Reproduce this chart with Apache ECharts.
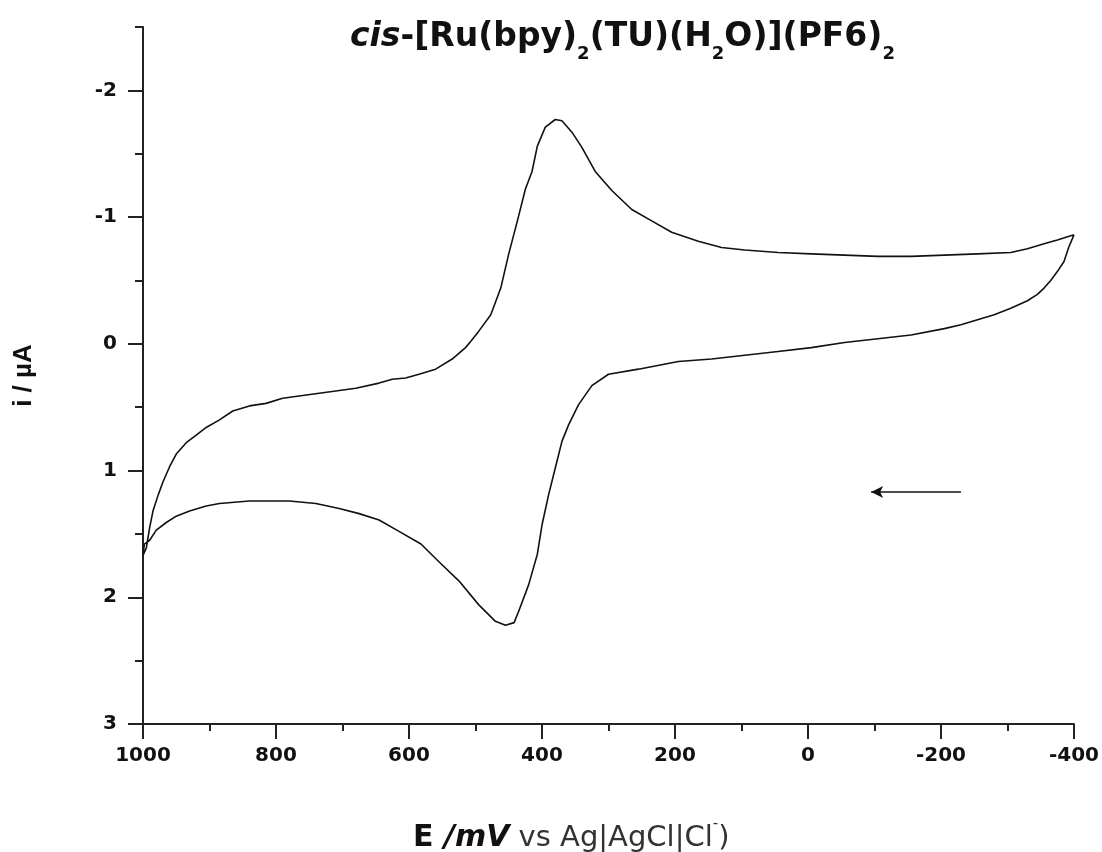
<!DOCTYPE html>
<html>
<head>
<meta charset="utf-8">
<script src="https://cdn.jsdelivr.net/npm/echarts@6/dist/echarts.min.js"></script>
<style>html,body{margin:0;padding:0;background:#fff}#c{width:1102px;height:852px}</style>
</head>
<body>
<div id="c"></div>
<script>
// Potential (mV) and current (µA), in scan order
const potential = [
  -400,-375,-355,-330,-305,-255,-205,-155,-105,-55,-5,45,95,130,165,205,235,265,295,320,340,355,370,380,395,407,415,425,437,450,462,477,495,507,515,535,560,585,605,625,645,680,735,790,815,840,865,885,905,920,935,950,960,970,977,985,990,995,1000,
  998,990,980,965,950,930,905,885,840,780,740,705,675,645,615,582,555,525,495,470,455,442,435,420,407,400,390,380,370,360,345,325,300,255,195,145,95,45,-5,-55,-105,-155,-205,-230,-255,-280,-305,-330,-345,-355,-365,-375,-385,-392,-400];
const current = [
  -0.86,-0.82,-0.79,-0.75,-0.72,-0.71,-0.70,-0.69,-0.69,-0.70,-0.71,-0.72,-0.74,-0.76,-0.81,-0.88,-0.97,-1.06,-1.21,-1.36,-1.55,-1.67,-1.76,-1.77,-1.71,-1.56,-1.36,-1.22,-0.97,-0.71,-0.44,-0.23,-0.10,-0.02,0.03,0.12,0.20,0.24,0.27,0.28,0.31,0.35,0.39,0.43,0.47,0.49,0.53,0.60,0.66,0.72,0.78,0.87,0.97,1.09,1.19,1.32,1.45,1.61,1.67,
  1.58,1.55,1.47,1.41,1.36,1.32,1.28,1.26,1.24,1.24,1.26,1.30,1.34,1.39,1.48,1.58,1.72,1.87,2.06,2.19,2.22,2.20,2.11,1.90,1.66,1.43,1.19,0.98,0.77,0.64,0.48,0.33,0.24,0.20,0.14,0.12,0.09,0.06,0.03,-0.01,-0.04,-0.07,-0.12,-0.15,-0.19,-0.23,-0.28,-0.34,-0.39,-0.44,-0.50,-0.57,-0.65,-0.76,-0.86];
const xTicks = [1000,800,600,400,200,0,-200,-400];
const yMajor = [-2,-1,0,1,2,3];
const yMinor = [-2.5,-1.5,-0.5,0.5,1.5,2.5];
const arrowX = [-230,-95];
const arrowY = [1.17,1.17];

const chart = echarts.init(document.getElementById('c'), null, {renderer:'canvas'});
const data = potential.map((e,k)=>[e,current[k]]);
const tickFont = {fontFamily:'DejaVu Sans', fontWeight:'bold', fontSize:20, color:'#111'};
const axisCol = '#222';
const TF = 'DejaVu Sans';
chart.setOption({
  backgroundColor:'#fff',
  animation:false,
  title:[{
    left:345, top:9,
    text:'{i|cis}{b|-[Ru(bpy)}{s|2}{b|(TU)(H}{s|2}{b|O)](PF6)}{s|2}',
    textStyle:{rich:{
      i:{fontFamily:TF,fontWeight:'bold',fontStyle:'italic',fontSize:33,color:'#111',verticalAlign:'bottom',lineHeight:40},
      b:{fontFamily:TF,fontWeight:'bold',fontSize:33,color:'#111',verticalAlign:'bottom',lineHeight:40},
      s:{fontFamily:TF,fontWeight:'bold',fontSize:18,color:'#111',verticalAlign:'bottom',lineHeight:40,padding:[0,0,-9,0]}
    }}
  },{
    left:408, top:812,
    text:'{b|E }{bi|/mV}{r| vs Ag|AgCl|Cl}{sup|-}{r|)}',
    textStyle:{rich:{
      b:{fontFamily:TF,fontWeight:'bold',fontSize:30,color:'#111',verticalAlign:'bottom',lineHeight:36},
      bi:{fontFamily:TF,fontWeight:'bold',fontStyle:'italic',fontSize:30,color:'#111',verticalAlign:'bottom',lineHeight:36},
      r:{fontFamily:TF,fontWeight:'normal',fontSize:29,color:'#333',verticalAlign:'bottom',lineHeight:36},
      sup:{fontFamily:TF,fontWeight:'normal',fontSize:15,color:'#333',verticalAlign:'top',lineHeight:36}
    }}
  }],
  grid:{left:143, right:25, top:27, bottom:128, containLabel:false},
  xAxis:{
    type:'value', min:-400, max:1000, interval:200, inverse:true,
    axisLine:{show:true,onZero:false,lineStyle:{color:axisCol,width:2}},
    axisTick:{show:true,length:15,lineStyle:{color:axisCol,width:2}},
    minorTick:{show:true,splitNumber:2,length:7,lineStyle:{color:axisCol,width:2}},
    axisLabel:{...tickFont, margin:22, customValues:xTicks, formatter:v=>String(v)},
    splitLine:{show:false}, minorSplitLine:{show:false}
  },
  yAxis:[{
    type:'value', min:-2.5, max:3, inverse:true, position:'left',
    axisLine:{show:true,onZero:false,lineStyle:{color:axisCol,width:2}},
    axisTick:{show:true,length:15,customValues:yMajor,lineStyle:{color:axisCol,width:2}},
    axisLabel:{...tickFont, margin:26, customValues:yMajor, formatter:v=>String(v)},
    splitLine:{show:false},
    name:'i / µA', nameLocation:'middle', nameGap:106, nameRotate:90,
    nameTextStyle:{fontFamily:'Liberation Sans',fontWeight:'bold',fontSize:26,color:'#111'}
  },{
    type:'value', min:-2.5, max:3, inverse:true, position:'left',
    axisLine:{show:false,onZero:false},
    axisTick:{show:true,length:8,customValues:yMinor,lineStyle:{color:axisCol,width:2}},
    axisLabel:{show:false}, splitLine:{show:false}
  }],
  series:[{
    type:'line', data:data, showSymbol:false, symbol:'none',
    lineStyle:{color:'#111',width:1.6}, smooth:false, z:3
  },{
    type:'line', data:[], symbol:'none',
    markLine:{
      silent:true, symbol:['none','arrow'], symbolSize:[9,12],
      lineStyle:{color:'#111',width:1.6,type:'solid'}, label:{show:false},
      data:[[{coord:[arrowX[0],arrowY[0]]},{coord:[arrowX[1],arrowY[1]]}]]
    }
  }]
});
</script>
</body>
</html>
